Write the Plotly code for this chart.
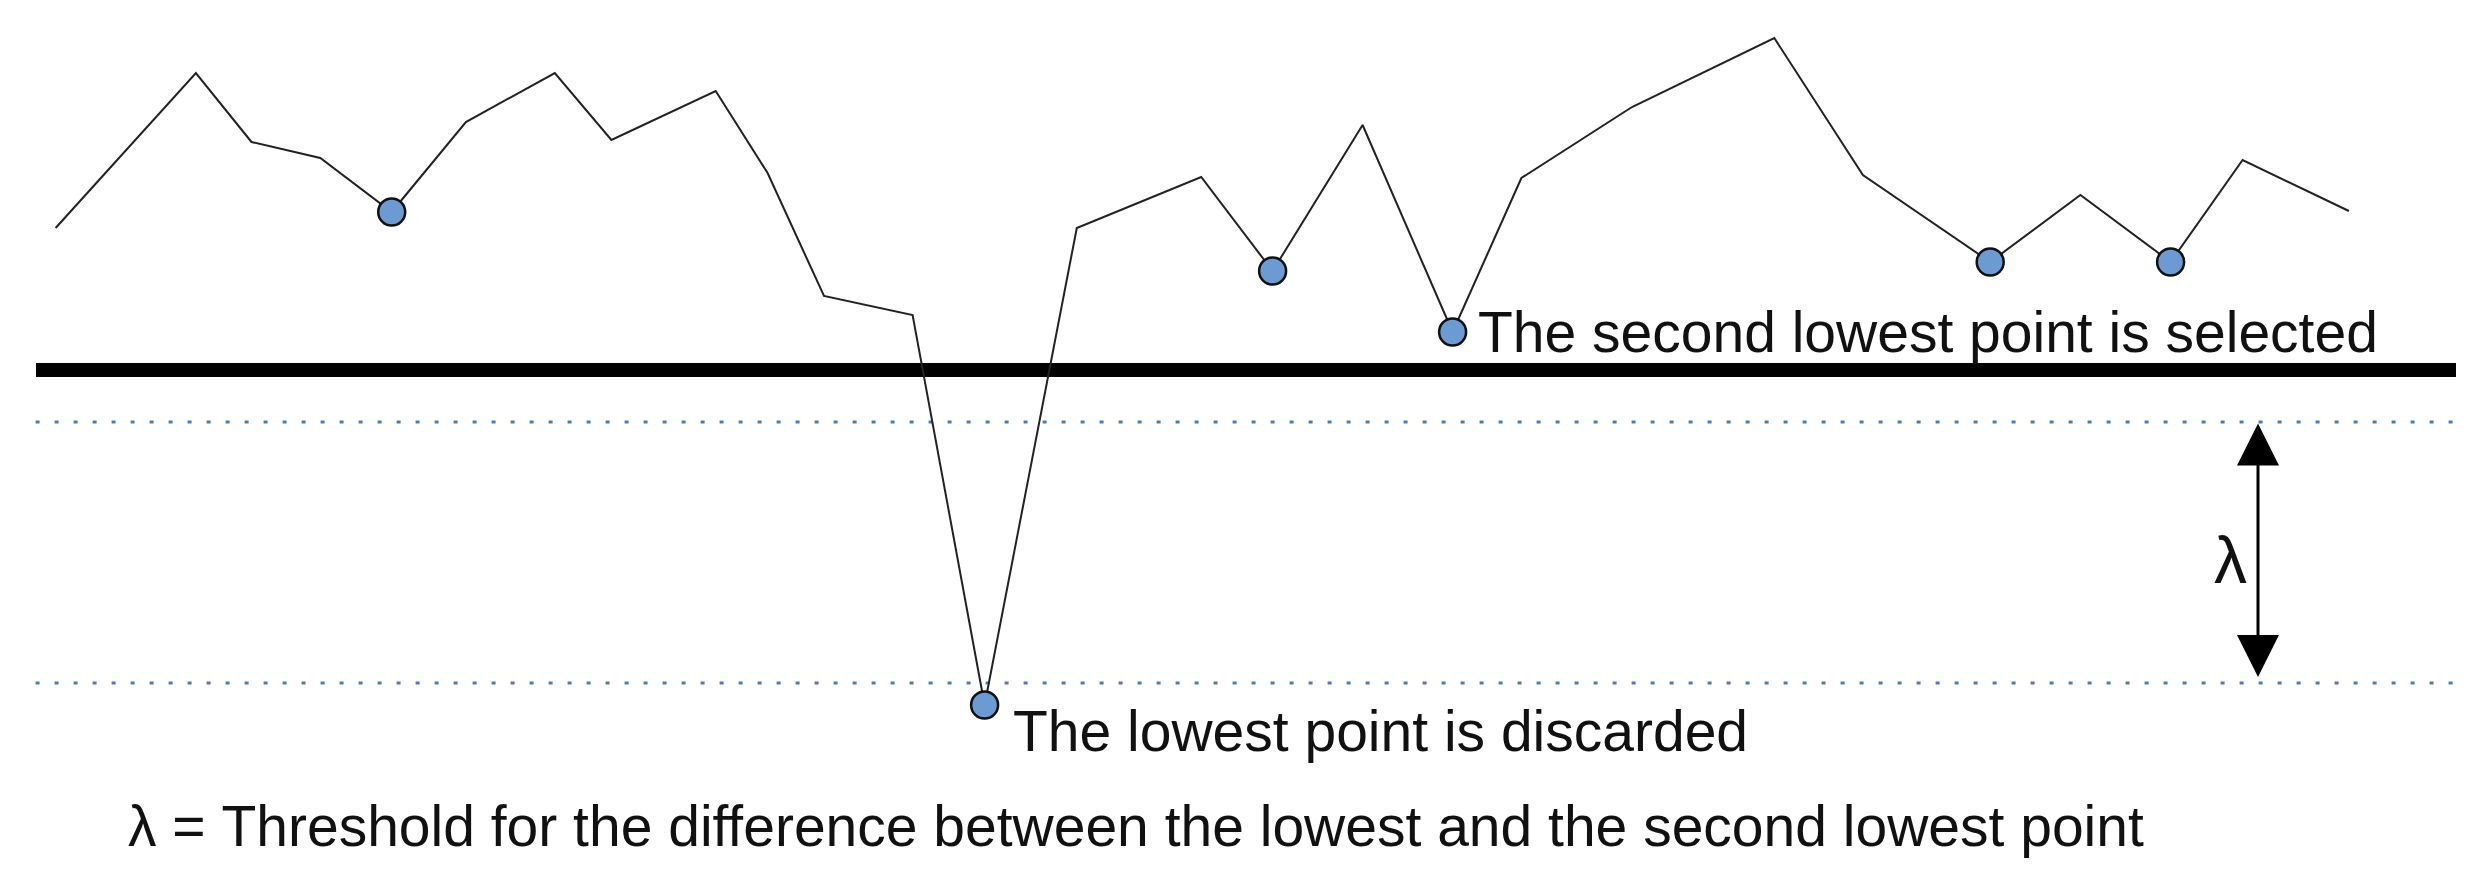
import plotly.graph_objects as go

# signal trace (x: time units, y: value units)
sig_x = [5.56, 19.59, 25.15, 32.03, 39.17, 46.59, 55.48, 61.14, 71.57, 76.76, 82.4, 91.26, 98.46,
         107.68, 120.12, 127.26, 136.26, 145.26, 152.14, 163.2, 177.43, 186.29, 199.02, 208.04,
         217.06, 224.26, 234.89]
sig_y = [64.2, 79.7, 72.8, 71.2, 65.8, 74.8, 79.7, 73.0, 77.9, 69.7, 57.4, 55.5, 16.5,
         64.2, 69.3, 59.9, 74.5, 53.8, 69.2, 76.3, 83.2, 69.5, 60.8, 67.5,
         60.8, 71.0, 65.9]
minima_idx = [4, 12, 15, 17, 22, 24]

selected_level = 50.0
lambda_upper = 44.8
lambda_lower = 18.7
level_x = [3.6, 245.6]
lambda_x = [3.56, 246.0]
arrow_x = 225.8
arrow_bottom = 19.3

label_selected = "The second lowest point is selected"
label_discarded = "The lowest point is discarded"
label_lambda = "λ"
footer = "λ = Threshold for the difference between the lowest and the second lowest point"

font_name = "Liberation Sans, Arial, sans-serif"

fig = go.Figure()

fig.add_trace(go.Scatter(x=lambda_x, y=[lambda_upper] * 2, mode='lines',
                         line=dict(color='#4a7cbc', width=3, dash='4px,15px')))
fig.add_trace(go.Scatter(x=lambda_x, y=[lambda_lower] * 2, mode='lines',
                         line=dict(color='#4a7cbc', width=3, dash='4px,15px')))
fig.add_trace(go.Scatter(x=level_x, y=[selected_level] * 2, mode='lines',
                         line=dict(color='black', width=14)))

fig.add_trace(go.Scatter(x=sig_x, y=sig_y, mode='lines',
                         line=dict(color='#222222', width=2)))

fig.add_trace(go.Scatter(x=[sig_x[i] for i in minima_idx], y=[sig_y[i] for i in minima_idx],
                         mode='markers',
                         marker=dict(size=27, color='#6b9bd2', line=dict(color='#111111', width=2.5))))

# double arrow for lambda
fig.add_annotation(x=arrow_x, y=arrow_bottom, ax=arrow_x, ay=lambda_upper,
                   xref='x', yref='y', axref='x', ayref='y', text='',
                   showarrow=True, arrowside='end+start', arrowhead=2, startarrowhead=2,
                   arrowsize=2.8, startarrowsize=2.8, arrowwidth=3, arrowcolor='black')

fig.add_annotation(text=label_selected, x=147.6, y=53.85, xref='x', yref='y',
                   xanchor='left', yanchor='middle', showarrow=False,
                   font=dict(size=57, color='#111111', family=font_name))
fig.add_annotation(text=label_discarded, x=101.1, y=13.9, xref='x', yref='y',
                   xanchor='left', yanchor='middle', showarrow=False,
                   font=dict(size=57, color='#111111', family=font_name))
fig.add_annotation(text=label_lambda, x=223.0, y=31.0, xref='x', yref='y',
                   xanchor='center', yanchor='middle', showarrow=False,
                   font=dict(size=66, color='#111111', family=font_name))
fig.add_annotation(text=footer, x=12.6, y=4.4, xref='x', yref='y',
                   xanchor='left', yanchor='middle', showarrow=False,
                   font=dict(size=57, color='#111111', family=font_name))

# the page body has an 8px margin, so the figure is 8px smaller and the ranges start 8px in
fig.update_xaxes(range=[0.8, 248.2], visible=False)
fig.update_yaxes(range=[0, 86.2], visible=False)
fig.update_layout(width=2474, height=862, margin=dict(l=0, r=0, t=0, b=0),
                  plot_bgcolor='white', paper_bgcolor='white', showlegend=False)

fig.write_html("out.html")
